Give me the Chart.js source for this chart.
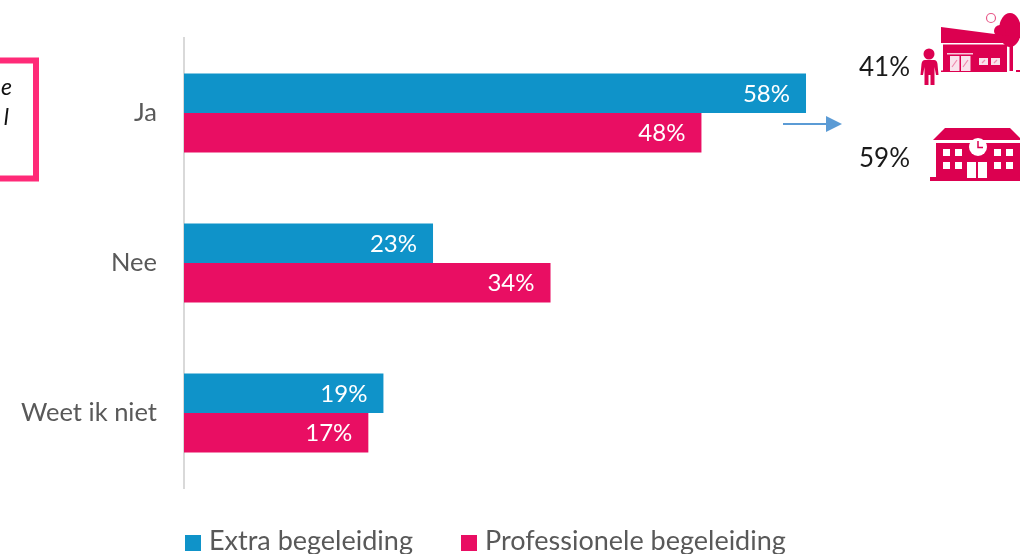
<!DOCTYPE html>
<html><head><meta charset="utf-8">
<style>
html,body{margin:0;padding:0;background:#fff;overflow:hidden}
#wrap{position:relative;width:1020px;height:554px;overflow:hidden}
canvas{position:absolute;left:0;top:0}
svg{position:absolute;left:0;top:0}
</style>
<script src="https://cdn.jsdelivr.net/npm/chart.js@4"></script>
</head><body><div id="wrap"><canvas id="c" width="1020" height="554"></canvas>
<svg width="1020" height="554" viewBox="0 0 1020 554" font-family="Lato, sans-serif">
  <rect x="-10" y="60.5" width="46" height="118" fill="none" stroke="#ff2a78" stroke-width="6"/>
  <text x="12" y="95" font-size="23" font-style="italic" text-anchor="end" fill="#111">e</text>
  <text x="9" y="125" font-size="23" font-style="italic" text-anchor="end" fill="#111">l</text>
  <line x1="783" y1="124" x2="828" y2="124" stroke="#5b9bd5" stroke-width="2"/>
  <polygon points="826,116 842,124 826,132" fill="#5b9bd5"/>
  <text x="859" y="76" font-size="26" fill="#1a1a1a">41%</text>
  <text x="859" y="167" font-size="26" fill="#1a1a1a">59%</text>
  <g fill="#dc0050">
    <circle cx="929" cy="54" r="5.500"/>
    <path d="M924 60h10q3 0 3.500 4l1 11h-2.500l-1.500-8v18h-4v-10h-2v10h-4v-18l-1.500 8h-2.500l1-11q.5-4 3.500-4z"/>
    <ellipse cx="1010" cy="30" rx="11" ry="17"/><circle cx="1000" cy="31" r="6"/>
    <rect x="1009.500" y="45" width="3.500" height="26"/>
    <polygon points="941,27 1010,36 1010,43 941,43" stroke="#fff" stroke-width="0"/>
    <polygon points="1001,34.800 1010,36 1011,44 1003,44" fill="#fff" opacity="0"/>
    <rect x="943" y="44.500" width="64" height="26.500"/>
    <rect x="941" y="70.500" width="66" height="1.500"/>
    <rect x="1016" y="70" width="4" height="2"/>
    <polygon points="933,140 945,128 1010,128 1020,138 1020,140"/>
    <rect x="936" y="143" width="84" height="35"/>
    <rect x="930" y="177" width="90" height="4"/>
  </g>
  <circle cx="991" cy="18" r="4.500" fill="none" stroke="#e85a8a" stroke-width="1.200"/>
  <rect x="947" y="53" width="26" height="1.500" fill="#f7c6d8"/>
  <g fill="#f9e3ec">
    <rect x="950" y="56" width="9.500" height="15"/><rect x="961" y="56" width="9.500" height="15"/>
    <rect x="979" y="58" width="9" height="7"/><rect x="991" y="58" width="9" height="7"/>
  </g>
  <g stroke="#f08aae" stroke-width="1.200">
    <path d="M952 67l5-7M963 67l5-7M982 63l3-3M994 63l3-3"/>
  </g>
  <g fill="#fff">
    <rect x="943" y="149" width="7" height="7"/><rect x="955" y="149" width="7" height="7"/>
    <rect x="943" y="162" width="7" height="7"/><rect x="955" y="162" width="7" height="7"/>
    <rect x="994" y="149" width="7" height="7"/><rect x="1006" y="149" width="7" height="7"/>
    <rect x="994" y="162" width="7" height="7"/><rect x="1006" y="162" width="7" height="7"/>
    <rect x="967" y="162" width="9" height="16"/><rect x="978" y="162" width="9" height="16"/>
    <circle cx="978" cy="147" r="9"/>
  </g>
  <path d="M978 141v6.500h5" fill="none" stroke="#dc0050" stroke-width="1.500"/>
</svg></div>
<script>
const categories = ["Ja", "Nee", "Weet ik niet"];
const extraBegeleiding = [57.7, 23.1, 18.5];
const professioneleBegeleiding = [48, 34, 17.1];
const seriesNames = ["Extra begeleiding", "Professionele begeleiding"];

const valueLabels = {
  id: 'valueLabels',
  afterDatasetsDraw(chart) {
    const ctx = chart.ctx;
    ctx.save();
    ctx.fillStyle = '#fff';
    ctx.font = '24px Lato, sans-serif';
    ctx.textAlign = 'right';
    ctx.textBaseline = 'middle';
    chart.data.datasets.forEach((ds, i) => {
      chart.getDatasetMeta(i).data.forEach((bar, j) => {
        ctx.fillText(Math.round(ds.data[j]) + '%', bar.x - 16, bar.y + 1);
      });
    });
    ctx.restore();
  }
};
const bottomLegend = {
  id: 'bottomLegend',
  afterDraw(chart) {
    const ctx = chart.ctx;
    const starts = [185, 461];
    ctx.save();
    ctx.font = '27px Lato, sans-serif';
    ctx.textAlign = 'left';
    ctx.textBaseline = 'alphabetic';
    chart.data.datasets.forEach((ds, i) => {
      ctx.fillStyle = ds.backgroundColor;
      ctx.fillRect(starts[i], 535, 16, 16);
      ctx.fillStyle = '#595959';
      ctx.fillText(ds.label, starts[i] + 24, 550);
    });
    ctx.restore();
  }
};

new Chart(document.getElementById('c'), {
  type: 'bar',
  plugins: [valueLabels, bottomLegend],
  data: {
    labels: categories,
    datasets: [
      { label: seriesNames[0], data: extraBegeleiding, backgroundColor: '#0f93c9' },
      { label: seriesNames[1], data: professioneleBegeleiding, backgroundColor: '#e90e63' }
    ]
  },
  options: {
    indexAxis: 'y',
    responsive: false,
    animation: false,
    layout: { padding: { top: 38, bottom: 66, left: 0, right: 0 } },
    datasets: { bar: { categoryPercentage: 0.527, barPercentage: 1 } },
    scales: {
      x: { display: false, min: 0, max: 77.55 },
      y: {
        afterFit(s) { s.width = 184; },
        grid: { display: false },
        border: { color: '#d9d9d9', width: 2 },
        ticks: { color: '#595959', font: { family: 'Lato, sans-serif', size: 25.5 }, padding: 19 }
      }
    },
    plugins: {
      tooltip: { enabled: false },
      legend: { display: false }
    }
  }
});
</script></body></html>
